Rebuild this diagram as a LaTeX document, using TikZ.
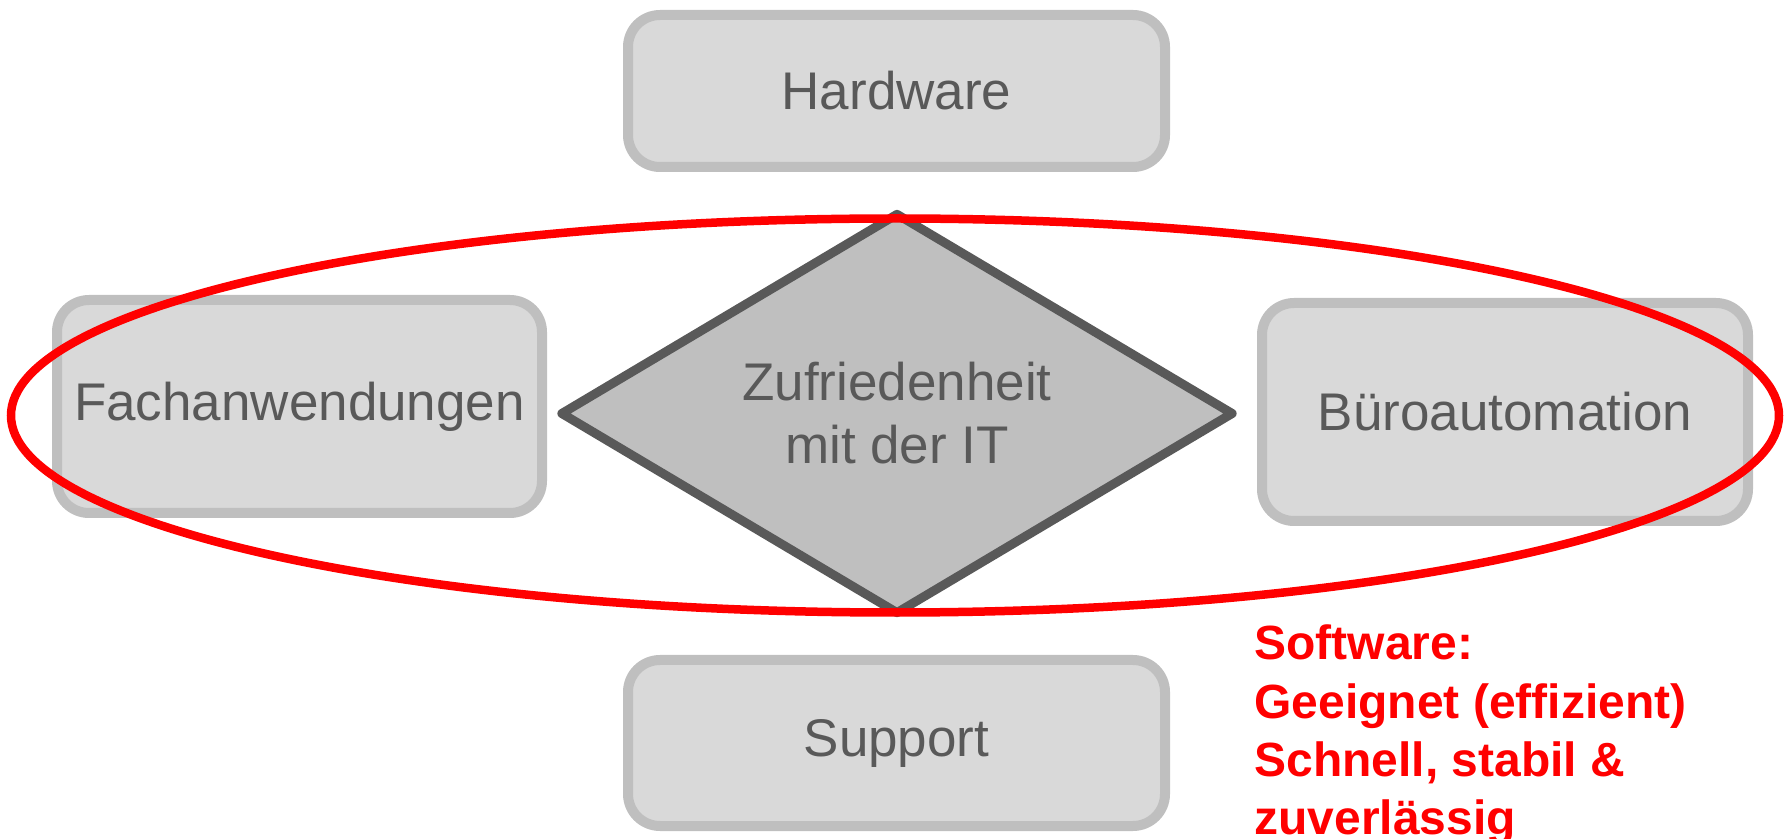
\documentclass[tikz,border=0pt]{standalone}
\usepackage{fontspec}
\setmainfont{Liberation Sans}
\usetikzlibrary{shapes.geometric}
\definecolor{boxfill}{HTML}{D9D9D9}
\definecolor{boxline}{HTML}{BFBFBF}
\definecolor{txtgray}{HTML}{595959}
\definecolor{dmfill}{HTML}{BFBFBF}
\begin{document}
\begin{tikzpicture}[x=0.5pt,y=-0.5pt,
  factor/.style={draw=boxline, fill=boxfill, line width=5pt, rounded corners=16pt,
    text=txtgray, font=\fontsize{26.5}{31.5}\selectfont, inner sep=0pt},
  core/.style={diamond, draw=txtgray, fill=dmfill, line width=4.5pt, line join=round,
    text=txtgray, font=\fontsize{26.5}{31.5}\selectfont, align=center, inner sep=0pt, aspect=1.68},
  note/.style={text=red, font=\bfseries\fontsize{24}{29.1}\selectfont, align=left, inner sep=0pt}]
\useasboundingbox (0,0) rectangle (1785,839);
\node[factor, minimum width=268.5pt, minimum height=76pt] (hw) at (896.5,91) {Hardware};
\node[factor, minimum width=242.5pt, minimum height=106.5pt] (fa) at (299.5,406.5) {Fachanwendungen};
\node[factor, minimum width=243pt, minimum height=109pt] (bu) at (1505,412) {Büroautomation};
\node[factor, minimum width=268.5pt, minimum height=83pt] (sp) at (896.5,743) {Support};
\node[core, minimum width=337pt, minimum height=201pt] (zuf) at (897,413.5) {Zufriedenheit\\mit der IT};
\draw[red, line width=4.25pt] (895,415.5) ellipse [x radius=442pt, y radius=98.5pt];
\node[note, anchor=base west] (sw) at (1254,834.5) {Software:\\Geeignet (effizient)\\Schnell, stabil \&\\zuverlässig};
\end{tikzpicture}
\end{document}
